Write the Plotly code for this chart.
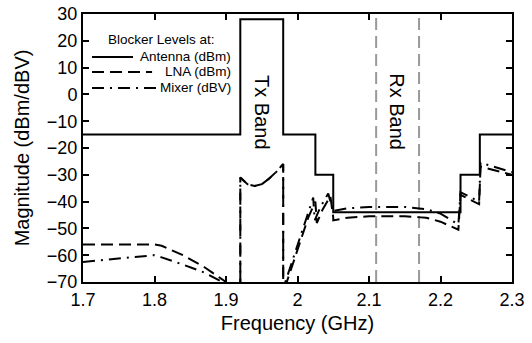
import plotly.graph_objects as go

# Data
ant_f = [1.7, 1.92, 1.92, 1.98, 1.98, 2.025, 2.025, 2.05, 2.05, 2.228, 2.228, 2.255, 2.255, 2.3]
ant_v = [-15, -15, 28, 28, -15, -15, -30, -30, -44, -44, -30, -30, -15, -15]

lna_f = [1.7, 1.75, 1.8, 1.81, 1.84, 1.87, 1.90, 1.91, 1.92, 1.92, 1.93, 1.94, 1.95, 1.96, 1.97, 1.98,
         1.98, 1.985, 1.995, 2.005, 2.015, 2.025, 2.027, 2.035, 2.046, 2.05,
         2.05, 2.07, 2.1, 2.15, 2.18, 2.2, 2.225,
         2.228, 2.254, 2.256, 2.3]
lna_v = [-56, -56, -56, -56.5, -60, -64.5, -70, -75, -75, -31, -33.5, -34.2, -33.5, -31.5, -29, -26,
         -75, -70, -62, -54, -46, -40, -48, -43, -38, -46,
         -47, -46, -45.5, -45.5, -46, -47.5, -50.5,
         -37.5, -41, -27, -30]

mix_f = [1.7, 1.75, 1.8, 1.81, 1.84, 1.87, 1.895, 1.91, 1.92, 1.92, 1.93, 1.94, 1.95, 1.96, 1.97, 1.98,
         1.98, 1.983, 1.993, 2.003, 2.013, 2.022, 2.024, 2.032, 2.043, 2.05,
         2.05, 2.07, 2.1, 2.15, 2.18, 2.2, 2.225,
         2.228, 2.254, 2.256, 2.3]
mix_v = [-62.5, -61.2, -60, -60.8, -63.5, -66.5, -70, -75, -75, -31, -33.5, -34.2, -33.5, -31.5, -29, -26,
         -75, -70, -62, -54, -46, -38.5, -47, -42, -37, -44,
         -43.5, -42.5, -42, -42, -42.8, -44.5, -48.5,
         -36.5, -40, -25.5, -29]

rx_band = [2.11, 2.17]
tx_band = [1.92, 1.98]

x_ticks = [1.7, 1.8, 1.9, 2.0, 2.1, 2.2, 2.3]
x_tick_text = ["1.7", "1.8", "1.9", "2", "2.1", "2.2", "2.3"]
y_ticks = [30, 20, 10, 0, -10, -20, -30, -40, -50, -60, -70]

series_names = ["Antenna (dBm)", "LNA (dBm)", "Mixer (dBV)"]
series_dash = ["solid", "12px,6px", "12px,6px,2px,6px"]
legend_title = "Blocker Levels at:"

FONT = "Liberation Sans, Arial, sans-serif"

fig = go.Figure()
for fx, vy, nm, ds in zip([ant_f, lna_f, mix_f], [ant_v, lna_v, mix_v], series_names, series_dash):
    fig.add_trace(go.Scatter(x=fx, y=vy, mode="lines", name=nm, showlegend=False,
                             line=dict(color="black", width=2, dash=ds)))

for xb in rx_band:
    fig.add_shape(type="line", x0=xb, x1=xb, y0=0, y1=1, xref="x", yref="paper",
                  line=dict(color="#999999", width=2, dash="12px,6px"), layer="below")

fig.add_annotation(x=sum(tx_band) / 2, y=-6.5, text="Tx Band", textangle=90, showarrow=False,
                   font=dict(family=FONT, size=20, color="black"))
fig.add_annotation(x=sum(rx_band) / 2, y=-6.5, text="Rx Band", textangle=90, showarrow=False,
                   font=dict(family=FONT, size=20, color="black"))

# manual legend (paper coordinates)
fig.add_annotation(x=0.184, y=0.903, xref="paper", yref="paper", text=legend_title, showarrow=False,
                   xanchor="center", yanchor="middle", font=dict(family=FONT, size=13.5, color="black"))
leg_y = [0.8396, 0.7836, 0.7239]
leg_x1 = [0.1166, 0.161, 0.1725]
for nm, ds, yy, x1 in zip(series_names, series_dash, leg_y, leg_x1):
    fig.add_shape(type="line", xref="paper", yref="paper", x0=0.021, x1=x1, y0=yy, y1=yy,
                  line=dict(color="black", width=2, dash=ds))
    fig.add_annotation(x=0.3497, y=yy, xref="paper", yref="paper", text=nm, showarrow=False,
                       xanchor="right", yanchor="middle",
                       font=dict(family=FONT, size=13.5, color="black"))

axis_common = dict(showline=True, linecolor="black", linewidth=2, mirror="ticks",
                   ticks="inside", ticklen=6, tickwidth=2, tickcolor="black",
                   showgrid=False, zeroline=False, automargin=False,
                   tickfont=dict(family=FONT, size=18, color="black"))

fig.update_xaxes(range=[1.7, 2.3], tickvals=x_ticks, ticktext=x_tick_text,
                 title=dict(text="Frequency (GHz)", font=dict(family=FONT, size=20, color="black"),
                            standoff=7),
                 **axis_common)
fig.update_yaxes(range=[-70, 30], tickvals=y_ticks,
                 title=dict(text="Magnitude (dBm/dBV)", font=dict(family=FONT, size=20, color="black"),
                            standoff=12),
                 **axis_common)

fig.update_layout(
    width=532, height=343,
    margin=dict(l=83, r=20, t=14, b=61),
    plot_bgcolor="white", paper_bgcolor="white",
    showlegend=False,
)

fig.write_html("out.html", config={"displayModeBar": False},
               post_script="document.body.style.margin='0';")
